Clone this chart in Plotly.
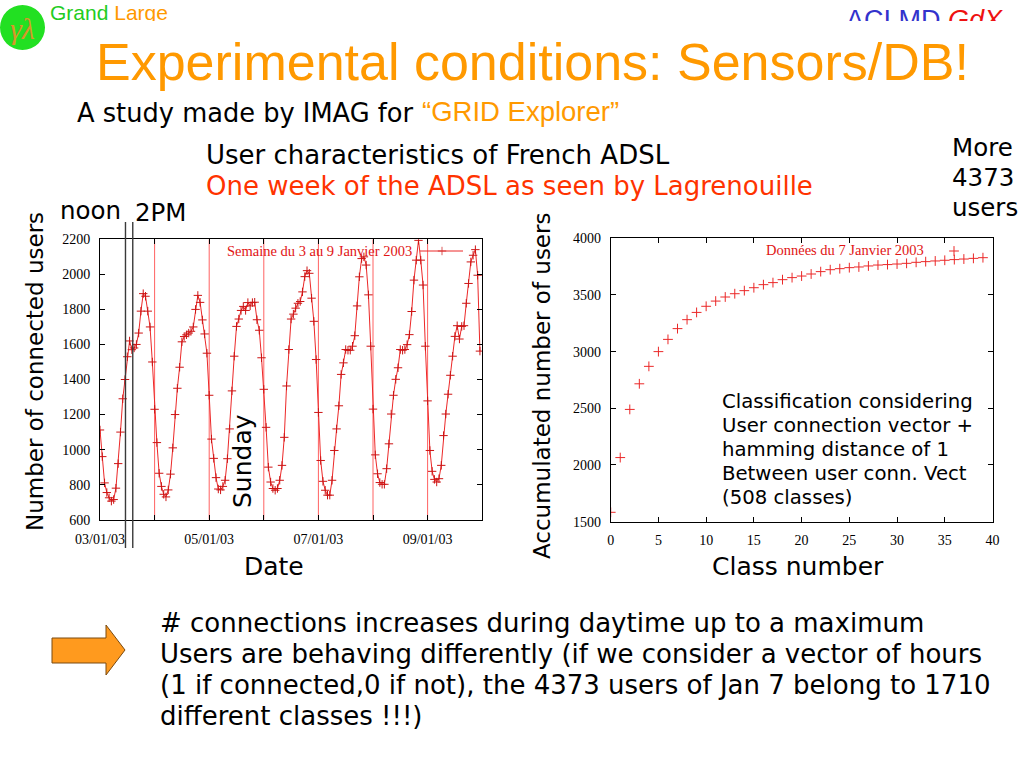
import plotly.graph_objects as go

W, H = 1024, 768

# ---------------- data: left chart (hourly connected users, 3-9 Jan 2003) ----------------
hours = list(range(168))
connected_users = [
    1112, 960, 810, 755, 725, 706, 715, 780, 920, 1100, 1290, 1400,
    1530, 1620, 1570, 1580, 1600, 1665, 1790, 1890, 1875, 1790, 1700, 1500,
    1230, 1040, 865, 790, 745, 730, 770, 860, 1010, 1200, 1350, 1470,
    1615, 1645, 1655, 1665, 1675, 1700, 1800, 1880, 1840, 1740, 1660, 1550,
    1310, 1060, 950, 840, 775, 770, 790, 825, 948, 1118, 1335, 1533,
    1703, 1745, 1794, 1817, 1794, 1839, 1820, 1839, 1841, 1741, 1681, 1524,
    1344, 1127, 900, 815, 778, 768, 778, 825, 910, 1070, 1363, 1571,
    1745, 1773, 1807, 1835, 1845, 1900, 1987, 2021, 2006, 1864, 1732, 1514,
    1212, 938, 819, 768, 740, 740, 825, 995, 1118, 1250, 1429, 1495,
    1571, 1567, 1567, 1590, 1650, 1820, 1986, 2090, 2100, 2053, 1883, 1590,
    1231, 970, 862, 812, 802, 802, 891, 1033, 1203, 1310, 1401, 1467,
    1571, 1567, 1571, 1599, 1656, 1788, 1967, 2081, 2194, 2081, 1939, 1590,
    1278, 995, 876, 830, 815, 834, 910, 1080, 1203, 1316, 1424, 1533,
    1646, 1707, 1631, 1703, 1707, 1835, 1948, 2071, 2109, 2141, 1995, 1562,
]
day_boundaries = [24, 48, 72, 96, 120, 144]
noon_2pm_hours = [11.2, 14.4]
left_xtick_vals = [0, 24, 48, 72, 96, 120, 144, 168]
left_xtick_text = ["03/01/03", "", "05/01/03", "", "07/01/03", "", "09/01/03", ""]
left_ytick_vals = [600, 800, 1000, 1200, 1400, 1600, 1800, 2000, 2200]
left_legend = "Semaine du 3 au 9 Janvier 2003"

# ---------------- data: right chart (accumulated users per class) ----------------
class_number = list(range(40))
accumulated_users = [
    1582, 2065, 2490, 2716, 2870, 3000, 3108, 3203, 3282, 3346,
    3400, 3446, 3482, 3511, 3538, 3564, 3591, 3609, 3635, 3653,
    3667, 3685, 3706, 3723, 3732, 3741, 3747, 3756, 3764, 3768,
    3773, 3779, 3788, 3794, 3800, 3806, 3812, 3817, 3823, 3829,
]
right_xtick_vals = [0, 5, 10, 15, 20, 25, 30, 35, 40]
right_ytick_vals = [1500, 2000, 2500, 3000, 3500, 4000]
right_legend = "Données du 7 Janvier 2003"

# ---------------- texts ----------------
title_text = "Experimental conditions: Sensors/DB!"
subtitle_text = "A study made by IMAG for"
grid_text = "\u201cGRID Explorer\u201d"
line1_text = "User characteristics of French ADSL"
line2_text = "One week of the ADSL as seen by Lagrenouille"
more_lines = ["More", "4373", "users"]
box_lines = ["Classification considering", "User connection vector +",
             "hamming distance of 1", "Between user conn. Vect", "(508 classes)"]
bottom_lines = ["# connections increases during daytime up to a maximum",
                "Users are behaving differently (if we consider a vector of hours",
                "(1 if connected,0 if not), the 4373 users of Jan 7 belong to 1710",
                "different classes !!!)"]

ORANGE = "#FF9900"
RED_TXT = "#FF3300"
SANS = "DejaVu Sans"
ARIAL = "Liberation Sans"
SERIF = "Liberation Serif"
LINE_RED = "rgb(236,40,40)"


def px(x):
    return x / W


def py(y):
    return 1 - y / H


fig = go.Figure()

# left chart
fig.add_trace(go.Scatter(
    x=hours, y=connected_users, mode="lines+markers", xaxis="x", yaxis="y",
    line=dict(color=LINE_RED, width=1),
    marker=dict(symbol="cross-thin", size=6, line=dict(color="rgb(205,20,20)", width=1)),
    hoverinfo="skip", showlegend=False))

# right chart
fig.add_trace(go.Scatter(
    x=class_number, y=accumulated_users, mode="markers", xaxis="x2", yaxis="y2",
    marker=dict(symbol="cross-thin", size=7, line=dict(color="rgb(235,40,40)", width=1)),
    hoverinfo="skip", showlegend=False))

# overlay (pixel space) decorations: legend samples and clipped header texts
fig.add_trace(go.Scatter(
    x=[420, 442, 463], y=[251, 251, 251], mode="lines+markers", xaxis="x3", yaxis="y3",
    line=dict(color=LINE_RED, width=1),
    marker=dict(symbol="cross-thin", size=[0, 6, 0], line=dict(color="rgb(205,20,20)", width=1)),
    hoverinfo="skip", showlegend=False, cliponaxis=False))
fig.add_trace(go.Scatter(
    x=[954], y=[251], mode="markers", xaxis="x3", yaxis="y3",
    marker=dict(symbol="cross-thin", size=7, line=dict(color="rgb(235,40,40)", width=1)),
    hoverinfo="skip", showlegend=False, cliponaxis=False))
fig.add_trace(go.Scatter(
    x=[50], y=[15], mode="text", xaxis="x3", yaxis="y3",
    text=['<span style="color:#22CC22">Grand</span> <span style="color:#FF9900">Large</span>'],
    textposition="middle right", textfont=dict(family=ARIAL, size=21),
    hoverinfo="skip", showlegend=False, cliponaxis=False))
fig.add_trace(go.Scatter(
    x=[846], y=[22], mode="text", xaxis="x3", yaxis="y3",
    text=['<span style="color:#3333CC">ACI MD</span> <span style="color:#EE1111"><i>GdX</i></span>'],
    textposition="middle right", textfont=dict(family=ARIAL, size=27),
    hoverinfo="skip", showlegend=False, cliponaxis=False))

axis_common = dict(
    showgrid=False, zeroline=False, showline=True, linecolor="black", linewidth=1,
    mirror="ticks", ticks="inside", ticklen=5, tickwidth=1, tickcolor="black",
    tickfont=dict(family=SERIF, size=14, color="black"), ticklabelstandoff=6,
    fixedrange=True, automargin=False,
)
hidden_axis = dict(domain=[0, 1], visible=False, showticklabels=False, showgrid=False,
                   zeroline=False, fixedrange=True, automargin=False)

shapes = []
for d in day_boundaries:
    shapes.append(dict(type="line", xref="x", yref="y", x0=d, x1=d, y0=600, y1=2200,
                       line=dict(color="rgba(255,70,70,0.85)", width=1), layer="below"))
for hx in noon_2pm_hours:
    shapes.append(dict(type="line", xref="x", yref="paper", x0=hx, x1=hx,
                       y0=py(548), y1=py(222), line=dict(color="#3a3a3a", width=1.4), layer="above"))
# white masks that cut the header texts
shapes.append(dict(type="rect", xref="x3", yref="y3", x0=46, x1=190, y0=21, y1=38,
                   fillcolor="white", line=dict(width=0), layer="above"))
shapes.append(dict(type="rect", xref="x3", yref="y3", x0=840, x1=1024, y0=21, y1=38,
                   fillcolor="white", line=dict(width=0), layer="above"))
# logo circle
shapes.append(dict(type="circle", xref="x3", yref="y3", x0=0, x1=45, y0=5, y1=50,
                   fillcolor="#22E022", line=dict(width=0), layer="above"))
# orange arrow
shapes.append(dict(type="path", xref="x3", yref="y3",
                   path="M 52 638 L 106 638 L 106 625 L 125 650 L 106 675 L 106 663 L 52 663 Z",
                   fillcolor="#FF9A1E", line=dict(color="#7a4a10", width=1), layer="above"))

annotations = []


def add_text(text, x, y, size, color="black", family=SANS, xanchor="left", angle=0):
    annotations.append(dict(text=text, x=px(x), y=py(y), xref="paper", yref="paper",
                            xanchor=xanchor, yanchor="middle", showarrow=False, textangle=angle,
                            font=dict(family=family, size=size, color=color), borderpad=0))


add_text("<i>\u03b3\u03bb</i>", 22, 29, 30, color="#D8962A", family=SERIF, xanchor="center")
add_text(title_text, 95, 62, 52, color=ORANGE, family=ARIAL)
add_text(subtitle_text, 76, 113, 25.7)
add_text(grid_text, 421, 111, 27.5, color=ORANGE, family=ARIAL)
add_text(line1_text, 205, 155, 26)
add_text(line2_text, 205, 186, 26, color=RED_TXT)
for i, t in enumerate(more_lines):
    add_text(t, 951, 147 + 30.5 * i, 24.5)
add_text("noon", 59, 211, 24.5)
add_text("2PM", 134, 212, 24.5)
add_text("Number of connected users", 35, 372, 23, xanchor="center", angle=-90)
add_text("Accumulated number of users", 542, 386, 23, xanchor="center", angle=-90)
add_text("Sunday", 242, 461, 25, xanchor="center", angle=-90)
add_text("Date", 274, 566, 25, xanchor="center")
add_text("Class number", 798, 566, 25, xanchor="center")
add_text(left_legend, 413, 251, 14.5, color="rgb(225,20,20)", family=SERIF, xanchor="right")
add_text(right_legend, 925, 250, 14.5, color="rgb(225,20,20)", family=SERIF, xanchor="right")
for i, t in enumerate(box_lines):
    add_text(t, 721, 401 + 24 * i, 19.7)
for i, t in enumerate(bottom_lines):
    add_text(t, 159, 623 + 31 * i, 26)

fig.update_layout(
    width=W, height=H, autosize=False,
    margin=dict(l=0, r=0, t=0, b=0, pad=0, autoexpand=False),
    paper_bgcolor="white", plot_bgcolor="rgba(0,0,0,0)",
    showlegend=False,
    xaxis=dict(domain=[px(100), px(482.2)], range=[0, 168], tickvals=left_xtick_vals,
               ticktext=left_xtick_text, anchor="y", **axis_common),
    yaxis=dict(domain=[py(519.7), py(239.3)], range=[600, 2200], tickvals=left_ytick_vals,
               anchor="x", **axis_common),
    xaxis2=dict(domain=[px(610.7), px(992.5)], range=[0, 40], tickvals=right_xtick_vals,
                anchor="y2", **axis_common),
    yaxis2=dict(domain=[py(521.6), py(238.3)], range=[1500, 4000], tickvals=right_ytick_vals,
                anchor="x2", **axis_common),
    xaxis3=dict(range=[0, W], anchor="y3", **hidden_axis),
    yaxis3=dict(range=[H, 0], anchor="x3", **hidden_axis),
    shapes=shapes,
    annotations=annotations,
)

fig.write_html("out.html", config={"displayModeBar": False},
               post_script="document.body.style.margin='0px';document.body.style.overflow='hidden';")
